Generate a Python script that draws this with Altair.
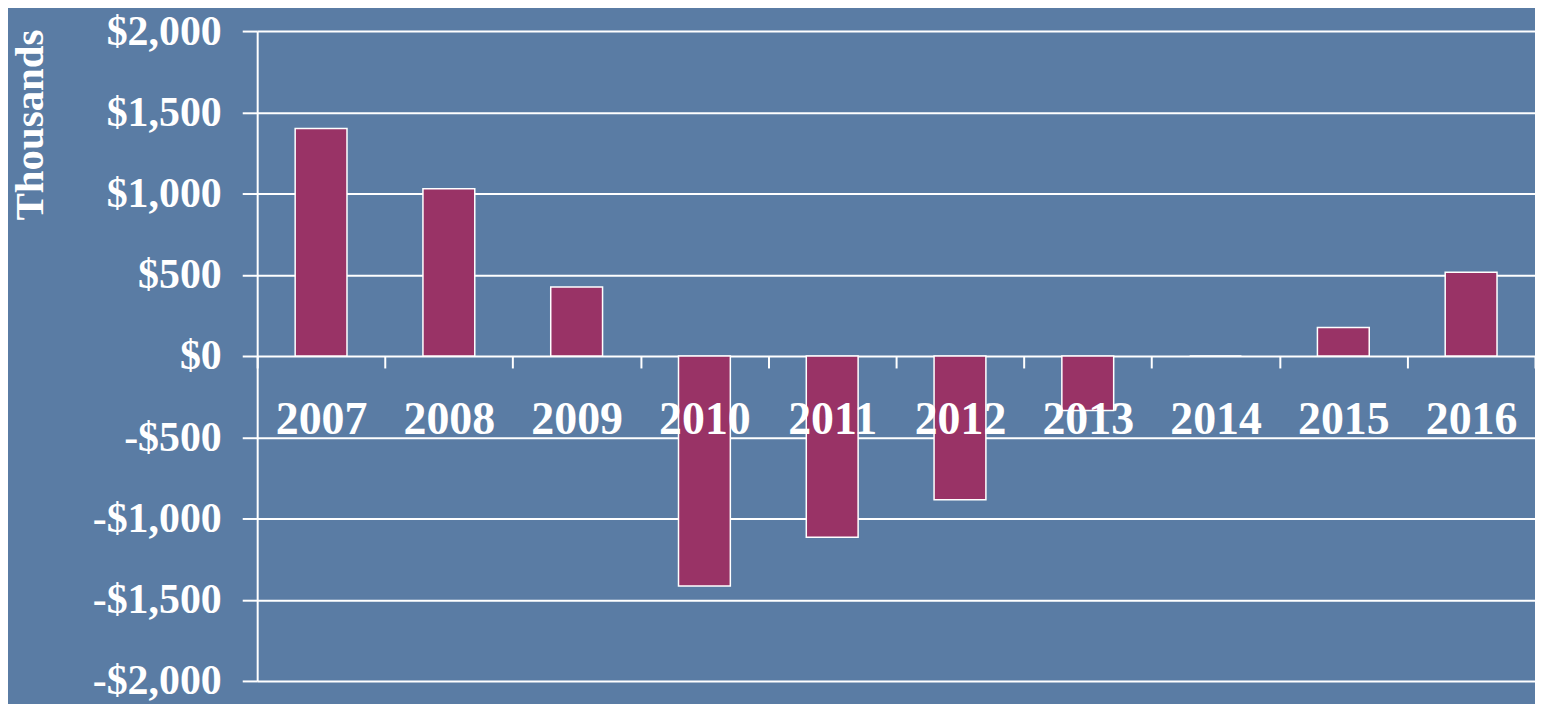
import altair as alt
import pandas as pd

years = ["2007", "2008", "2009", "2010", "2011", "2012", "2013", "2014", "2015", "2016"]
values = [1400, 1030, 425, -1415, -1115, -885, -335, 0, 175, 515]
y_ticks = [-2000, -1500, -1000, -500, 0, 500, 1000, 1500, 2000]

df = pd.DataFrame({"year": years, "value": values})

FONT = "Liberation Serif"
BG = "#5a7ca4"

bars = alt.Chart(df).mark_bar(
    color="#993366", stroke="white", strokeWidth=1.5, size=52
).encode(
    x=alt.X(
        "year:N",
        sort=years,
        scale=alt.Scale(paddingInner=0, paddingOuter=0),
        axis=alt.Axis(
            orient="bottom",
            offset=-326,
            domain=False,
            grid=False,
            tickBand="extent",
            tickSize=12,
            tickColor="white",
            tickWidth=2,
            labelAngle=0,
            labelFont=FONT,
            labelFontWeight="bold",
            labelFontSize=46,
            labelColor="white",
            labelPadding=30,
            labelBaseline="top",
            title=None,
            zindex=1,
        ),
    ),
    y=alt.Y(
        "value:Q",
        scale=alt.Scale(domain=[-2000, 2000], nice=False),
        axis=alt.Axis(
            values=y_ticks,
            labelExpr="datum.value < 0 ? '-$' + format(-datum.value, ',') : '$' + format(datum.value, ',')",
            grid=True,
            gridColor="white",
            gridWidth=2,
            gridOpacity=1,
            domain=True,
            domainColor="white",
            domainWidth=2,
            tickColor="white",
            tickSize=15,
            tickWidth=2,
            labelFont=FONT,
            labelFontWeight="bold",
            labelFontSize=42,
            labelColor="white",
            labelPadding=21,
            title="Thousands",
            titleFont=FONT,
            titleFontWeight="bold",
            titleFontSize=41,
            titleColor="white",
            titleAngle=-90,
            titleAlign="right",
            titleBaseline="middle",
            titleX=-227,
            titleY=-2,
        ),
    ),
)

chart = bars.properties(
    width=1282,
    height=652,
    background=BG,
    padding={"left": 250, "top": 22, "right": 0, "bottom": 22},
    autosize=alt.AutoSizeParams(type="none"),
).configure_view(stroke=None, fill=BG)

chart.save("out.html", embed_options={"renderer": "svg", "actions": False})
